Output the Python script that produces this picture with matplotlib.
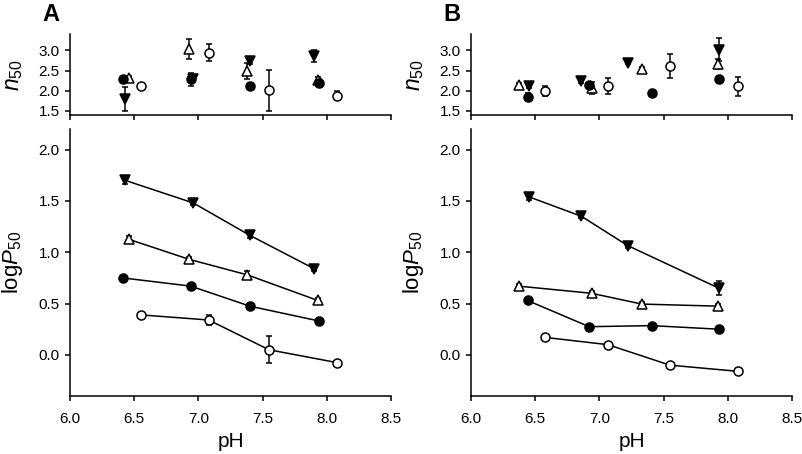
import matplotlib
matplotlib.use("Agg")
import matplotlib.pyplot as plt

plt.rcParams['font.family'] = ['Liberation Sans', 'DejaVu Sans']
plt.rcParams['mathtext.fontset'] = 'custom'
plt.rcParams['mathtext.rm'] = 'Liberation Sans'
plt.rcParams['mathtext.it'] = 'Liberation Sans:italic'

# series order: filled down-triangle, open triangle, filled circle, open circle
series_names = ["tri_down", "tri_open", "circ_fill", "circ_open"]

# panel A
ph_A = {
    "tri_down": [6.43, 6.96, 7.40, 7.90],
    "tri_open": [6.46, 6.93, 7.38, 7.93],
    "circ_fill": [6.41, 6.94, 7.40, 7.94],
    "circ_open": [6.55, 7.08, 7.55, 8.08],
}
logp_A = {
    "tri_down": [1.70, 1.48, 1.165, 0.84],
    "tri_open": [1.125, 0.93, 0.78, 0.53],
    "circ_fill": [0.75, 0.67, 0.475, 0.33],
    "circ_open": [0.39, 0.34, 0.05, -0.075],
}
logp_err_A = {
    "tri_down": [0.04, 0.02, 0.03, 0.02],
    "tri_open": [0.03, 0.02, 0.04, 0.02],
    "circ_fill": [0.02, 0.02, 0.02, 0.02],
    "circ_open": [0.02, 0.05, 0.13, 0.02],
}
n50_A = {
    "tri_down": [1.80, 2.30, 2.73, 2.86],
    "tri_open": [2.32, 3.03, 2.48, 2.27],
    "circ_fill": [2.30, 2.28, 2.13, 2.20],
    "circ_open": [2.12, 2.94, 2.01, 1.88],
}
n50_err_A = {
    "tri_down": [0.30, 0.08, 0.06, 0.16],
    "tri_open": [0.05, 0.25, 0.20, 0.08],
    "circ_fill": [0.04, 0.15, 0.05, 0.10],
    "circ_open": [0.04, 0.21, 0.50, 0.12],
}

# panel B
ph_B = {
    "tri_down": [6.45, 6.86, 7.22, 7.93],
    "tri_open": [6.37, 6.94, 7.33, 7.92],
    "circ_fill": [6.44, 6.92, 7.41, 7.935],
    "circ_open": [6.58, 7.065, 7.55, 8.08],
}
logp_B = {
    "tri_down": [1.54, 1.35, 1.065, 0.65],
    "tri_open": [0.67, 0.60, 0.495, 0.475],
    "circ_fill": [0.53, 0.275, 0.285, 0.25],
    "circ_open": [0.17, 0.10, -0.10, -0.16],
}
logp_err_B = {
    "tri_down": [0.03, 0.02, 0.02, 0.07],
    "tri_open": [0.02, 0.02, 0.02, 0.02],
    "circ_fill": [0.02, 0.02, 0.02, 0.02],
    "circ_open": [0.03, 0.02, 0.02, 0.03],
}
n50_B = {
    "tri_down": [2.12, 2.23, 2.69, 3.02],
    "tri_open": [2.15, 2.07, 2.54, 2.67],
    "circ_fill": [1.84, 2.15, 1.95, 2.28],
    "circ_open": [2.00, 2.11, 2.62, 2.11],
}
n50_err_B = {
    "tri_down": [0.05, 0.05, 0.04, 0.28],
    "tri_open": [0.04, 0.15, 0.04, 0.12],
    "circ_fill": [0.10, 0.05, 0.05, 0.04],
    "circ_open": [0.13, 0.20, 0.30, 0.23],
}

styles = {
    "tri_down": dict(marker="v", ms=7, mfc="black"),
    "tri_open": dict(marker="^", ms=7, mfc="white"),
    "circ_fill": dict(marker="o", ms=6.5, mfc="black"),
    "circ_open": dict(marker="o", ms=6.5, mfc="white"),
}


def style_axes(ax):
    for s in ["top", "right"]:
        ax.spines[s].set_visible(False)
    for s in ["left", "bottom"]:
        ax.spines[s].set_linewidth(1.1)
    ax.tick_params(direction="out", length=3.5, width=1.1, labelsize=11, pad=4)
    ax.tick_params(axis="x", pad=8)
    ax.set_xlim(6.0, 8.5)
    ax.set_xticks([6.0, 6.5, 7.0, 7.5, 8.0, 8.5])


def draw_panel(x_left, ph, logp, logp_err, n50, n50_err, letter):
    ax_top = fig.add_axes([x_left, 0.7467, 0.3998, 0.178])
    ax_bot = fig.add_axes([x_left, 0.1278, 0.3998, 0.588])

    for name in series_names:
        st = styles[name]
        ax_bot.errorbar(ph[name], logp[name], yerr=logp_err[name], color="black",
                        lw=1.1, mec="black", mew=1.1, elinewidth=1.1, capsize=2.5,
                        capthick=1.1, **st)
        ax_top.errorbar(ph[name], n50[name], yerr=n50_err[name], ls="none", color="black",
                        mec="black", mew=1.1, elinewidth=1.1, capsize=2.5,
                        capthick=1.1, **st)

    style_axes(ax_top)
    ax_top.set_ylim(1.4, 3.4)
    ax_top.set_yticks([1.5, 2.0, 2.5, 3.0])
    ax_top.set_yticklabels(["1.5", "2.0", "2.5", "3.0"])
    ax_top.set_xticklabels([])
    ax_top.set_ylabel(r"$n_{50}$", fontsize=16.5)
    ax_top.yaxis.set_label_coords(-0.14, 0.5)

    style_axes(ax_bot)
    ax_bot.set_ylim(-0.4, 2.2)
    ax_bot.set_yticks([0.0, 0.5, 1.0, 1.5, 2.0])
    ax_bot.set_yticklabels(["0.0", "0.5", "1.0", "1.5", "2.0"])
    ax_bot.set_xticklabels(["6.0", "6.5", "7.0", "7.5", "8.0", "8.5"])
    ax_bot.set_ylabel(r"$\mathrm{log}P_{50}$", fontsize=16)
    ax_bot.yaxis.set_label_coords(-0.14, 0.5)
    ax_bot.set_xlabel("pH", fontsize=15)
    ax_bot.xaxis.set_label_coords(0.5, -0.135)

    fig.text(x_left - 0.024, 0.969, letter, fontsize=17, fontweight="bold",
             ha="center", va="center")


fig = plt.figure(figsize=(8.03, 4.54), dpi=100)
draw_panel(70 / 803, ph_A, logp_A, logp_err_A, n50_A, n50_err_A, "A")
draw_panel(471 / 803, ph_B, logp_B, logp_err_B, n50_B, n50_err_B, "B")

fig.savefig("out.png", dpi=100)
